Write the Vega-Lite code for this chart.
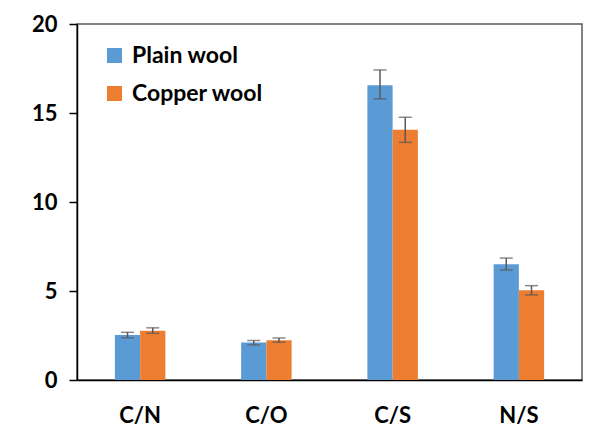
{
  "$schema": "https://vega.github.io/schema/vega-lite/v6.json",
  "width": 505,
  "height": 356,
  "autosize": {"type": "none"},
  "padding": {"left": 77, "top": 24, "right": 10, "bottom": 68},
  "background": "white",
  "config": {
    "view": {"stroke": "#595959", "strokeWidth": 1.5},
    "font": "Lato",
    "axis": {"labelFont": "Lato", "labelFontWeight": "bold", "labelColor": "black", "grid": false}
  },
  "data": {
    "values": [
      {"ratio": "C/N", "series": "Plain wool", "value": 2.53, "lo": 2.37, "hi": 2.68},
      {"ratio": "C/N", "series": "Copper wool", "value": 2.76, "lo": 2.62, "hi": 2.93},
      {"ratio": "C/O", "series": "Plain wool", "value": 2.10, "lo": 1.97, "hi": 2.22},
      {"ratio": "C/O", "series": "Copper wool", "value": 2.24, "lo": 2.12, "hi": 2.36},
      {"ratio": "C/S", "series": "Plain wool", "value": 16.56, "lo": 15.8, "hi": 17.42},
      {"ratio": "C/S", "series": "Copper wool", "value": 14.06, "lo": 13.35, "hi": 14.76},
      {"ratio": "N/S", "series": "Plain wool", "value": 6.50, "lo": 6.18, "hi": 6.85},
      {"ratio": "N/S", "series": "Copper wool", "value": 5.04, "lo": 4.78, "hi": 5.30}
    ]
  },
  "encoding": {
    "x": {
      "field": "ratio", "type": "nominal", "sort": ["C/N", "C/O", "C/S", "N/S"],
      "scale": {"paddingInner": 0.6, "paddingOuter": 0.3},
      "axis": {"title": null, "labelAngle": 0, "ticks": false, "domainColor": "black", "domainWidth": 1.5, "labelFontSize": 22, "labelPadding": 25}
    },
    "xOffset": {"field": "series", "type": "nominal", "sort": ["Plain wool", "Copper wool"]}
  },
  "layer": [
    {
      "mark": {"type": "bar"},
      "encoding": {
        "y": {
          "field": "value", "type": "quantitative",
          "scale": {"domain": [0, 20]},
          "axis": {"title": null, "values": [0, 5, 10, 15, 20], "tickColor": "black", "tickSize": 8, "tickWidth": 1.5, "domainColor": "black", "domainWidth": 1.5, "labelFontSize": 22, "labelPadding": 12}
        },
        "color": {
          "field": "series", "type": "nominal", "sort": ["Plain wool", "Copper wool"],
          "scale": {"domain": ["Plain wool", "Copper wool"], "range": ["#5B9BD5", "#ED7D31"]},
          "legend": {
            "title": null, "orient": "none", "legendX": 26, "legendY": 20,
            "symbolType": "square", "symbolSize": 225, "symbolStrokeWidth": 0,
            "labelFontSize": 23, "labelFont": "Lato", "labelFontWeight": "bold", "labelColor": "black",
            "rowPadding": 14, "labelOffset": 6
          }
        }
      }
    },
    {
      "mark": {"type": "rule", "color": "#595959", "strokeWidth": 1.5},
      "encoding": {
        "y": {"field": "lo", "type": "quantitative"},
        "y2": {"field": "hi"}
      }
    },
    {
      "mark": {"type": "tick", "color": "#595959", "orient": "horizontal", "size": 13, "thickness": 1.5},
      "encoding": {"y": {"field": "lo", "type": "quantitative"}}
    },
    {
      "mark": {"type": "tick", "color": "#595959", "orient": "horizontal", "size": 13, "thickness": 1.5},
      "encoding": {"y": {"field": "hi", "type": "quantitative"}}
    }
  ]
}
